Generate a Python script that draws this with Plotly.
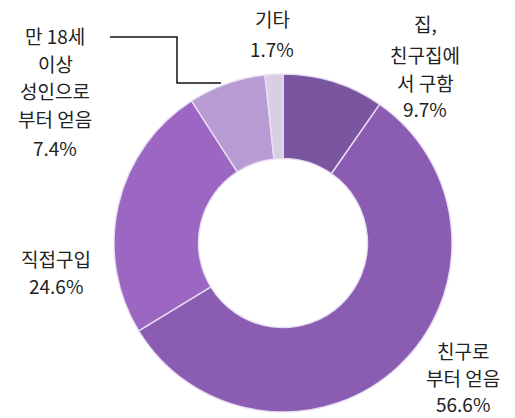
import plotly.graph_objects as go

labels = ['집, 친구집에서 구함', '친구로부터 얻음', '직접구입', '만 18세 이상 성인으로부터 얻음', '기타']
values = [9.7, 56.6, 24.6, 7.4, 1.7]
colors = ['#7a55a0', '#8a5cb2', '#9b67c2', '#b89bd3', '#d8cfe2']

# label text, broken into lines as in the original
label_lines = [
    ['집,', '친구집에', '서 구함', '9.7%'],
    ['친구로', '부터 얻음', '56.6%'],
    ['직접구입', '24.6%'],
    ['만 18세', '이상', '성인으로', '부터 얻음', '7.4%'],
    ['기타', '1.7%'],
]

W, H = 515, 418

# label placement in pixels (x centre, y centre of each line)
label_px_x = [425, 463, 56, 55, 272]
label_px_y = [
    [24, 55, 82, 109],
    [350, 377, 403],
    [258, 285],
    [35, 63, 90, 118, 147],
    [19, 48],
]

fig = go.Figure()
fig.add_trace(go.Pie(
    labels=labels,
    values=values,
    hole=0.5,
    sort=False,
    direction='clockwise',
    rotation=0,
    marker=dict(colors=colors, line=dict(color='rgba(235,225,245,0.9)', width=1.5)),
    textinfo='none',
    hoverinfo='label+percent',
    showlegend=False,
    domain=dict(x=[114 / W, 452 / W], y=[1 - 412 / H, 1 - 74 / H]),
))

for lines, px, pys in zip(label_lines, label_px_x, label_px_y):
    for line, py in zip(lines, pys):
        fig.add_annotation(
            x=px / W, y=1 - py / H, xref='paper', yref='paper',
            text=line, showarrow=False,
            xanchor='center', yanchor='middle',
            font=dict(family='Noto Sans CJK KR', size=19, color='#222222'),
        )

# leader line for the small "만 18세 ..." slice
fig.add_shape(
    type='path', xref='paper', yref='paper',
    path=f'M {110 / W},{1 - 37 / H} L {177 / W},{1 - 37 / H} '
         f'L {177 / W},{1 - 83 / H} L {221 / W},{1 - 83 / H}',
    line=dict(color='#111111', width=1.5),
)

fig.update_layout(
    width=W,
    height=H,
    margin=dict(l=0, r=0, t=0, b=0),
    paper_bgcolor='white',
    plot_bgcolor='white',
)

# drop the browser's default body margin so the chart fills the window
fig.write_html('out.html', config={'displayModeBar': False},
               post_script="document.body.style.margin='0';")
